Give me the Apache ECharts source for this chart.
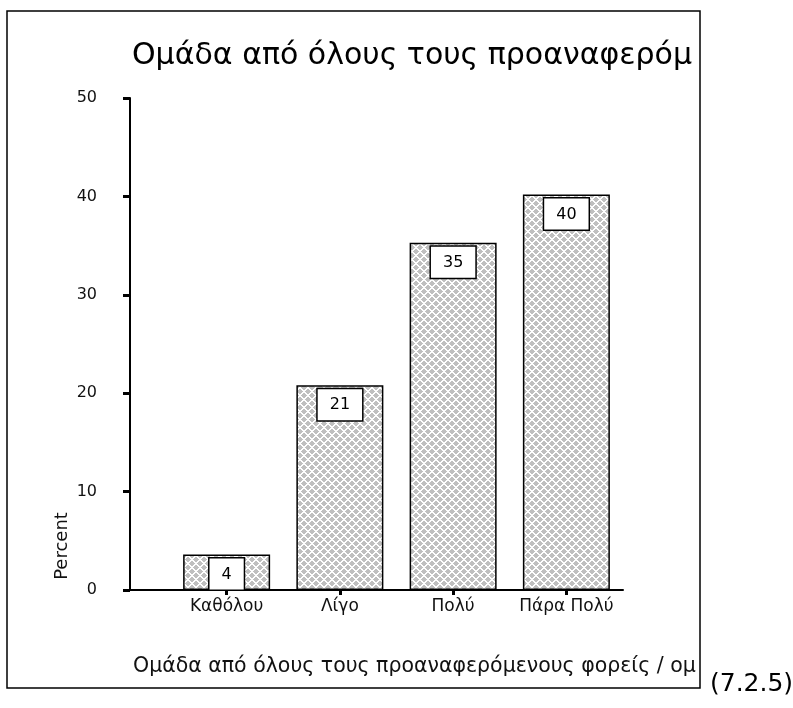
<!DOCTYPE html>
<html>
<head>
<meta charset="utf-8">
<script src="https://cdn.jsdelivr.net/npm/echarts@6/dist/echarts.min.js"></script>
<style>
html,body{margin:0;padding:0;background:#fff;}
#chart{width:793px;height:708px;}
</style>
</head>
<body>
<div id="chart"></div>
<script>
// ---- data ----
var categories = ['Καθόλου', 'Λίγο', 'Πολύ', 'Πάρα Πολύ'];
var percentValues = [3.6, 20.8, 35.3, 40.2];
var yTicks = [0, 10, 20, 30, 40, 50];
var titleText = 'Ομάδα από όλους τους προαναφερόμ';
var xAxisTitle = 'Ομάδα από όλους τους προαναφερόμενους φορείς / ομ';
var yAxisTitle = 'Percent';
var refText = '(7.2.5)';

// hatch pattern
function makePattern() {
  var n = 8;
  var c = document.createElement('canvas');
  c.width = n; c.height = n;
  var ctx = c.getContext('2d');
  ctx.fillStyle = '#c0c0c0';
  ctx.fillRect(0, 0, n, n);
  ctx.fillStyle = '#ffffff';
  for (var i = 0; i < n; i++) {
    ctx.fillRect(i, i, 1, 1);
    ctx.fillRect((i + 1) % n, i, 1, 1);
    ctx.fillRect(n - 1 - i, i, 1, 1);
    ctx.fillRect((2 * n - 2 - i) % n, i, 1, 1);
  }
  return c;
}

var FONT = '"DejaVu Sans", sans-serif';
var chart = echarts.init(document.getElementById('chart'), null, {renderer: 'canvas'});

var option = {
  backgroundColor: '#ffffff',
  animation: false,
  title: [
    {
      text: titleText,
      left: 127, top: 36,
      textStyle: {fontFamily: FONT, fontSize: 30, fontWeight: 'normal', color: '#000'}
    },
    {
      text: xAxisTitle,
      left: 128, top: 651,
      textStyle: {fontFamily: FONT, fontSize: 20.5, fontWeight: 'normal', color: '#111'}
    },
    {
      text: refText,
      left: 705, top: 667,
      textStyle: {fontFamily: FONT, fontSize: 25, fontWeight: 'normal', color: '#000'}
    }
  ],
  grid: {left: 170, top: 98, width: 453, height: 492, containLabel: false},
  xAxis: {
    type: 'category',
    data: categories,
    boundaryGap: true,
    axisLine: {show: true, lineStyle: {color: '#000', width: 2}},
    axisTick: {show: true, alignWithLabel: true, interval: 0, length: 5, lineStyle: {color: '#000', width: 3}},
    axisLabel: {fontFamily: FONT, fontSize: 17, color: '#111', margin: 8, interval: 0}
  },
  yAxis: {
    type: 'value',
    min: yTicks[0], max: yTicks[yTicks.length - 1], interval: yTicks[1] - yTicks[0],
    offset: 40,
    axisLine: {show: true, lineStyle: {color: '#000', width: 2}},
    axisTick: {show: true, length: 7, lineStyle: {color: '#000', width: 3}},
    axisLabel: {fontFamily: FONT, fontSize: 16, color: '#111', margin: 33},
    splitLine: {show: false}
  },
  series: [{
    type: 'bar',
    data: percentValues,
    barWidth: 87,
    itemStyle: {color: {image: makePattern(), repeat: 'repeat'}, borderColor: '#000', borderWidth: 1.5},
    label: {
      show: true,
      position: 'insideTop',
      distance: 4,
      formatter: function (p) { return String(Math.round(p.value)); },
      fontFamily: FONT, fontSize: 16, color: '#000',
      backgroundColor: '#fff', borderColor: '#000', borderWidth: 1.5,
      padding: [8, 12, 7, 12]
    }
  }],
  graphic: []
};
chart.setOption(option);

// frame, baseline extension, y-axis title
var rect = chart.getModel().getComponent('grid').coordinateSystem.getRect();
var yZero = chart.convertToPixel({yAxisIndex: 0}, 0);
var axisX = rect.x - 40;
chart.setOption({
  graphic: [
    {type: 'rect', shape: {x: 7, y: 11, width: 693, height: 677}, style: {fill: null, stroke: '#000', lineWidth: 1.5}, silent: true},
    {type: 'line', shape: {x1: axisX, y1: yZero, x2: rect.x, y2: yZero}, style: {stroke: '#000', lineWidth: 2}},
    {type: 'text', x: 62, y: 546, rotation: Math.PI / 2,
      style: {text: yAxisTitle, font: '18px "DejaVu Sans", sans-serif', fill: '#111', textAlign: 'center', textVerticalAlign: 'middle'}}
  ]
});
</script>
</body>
</html>
